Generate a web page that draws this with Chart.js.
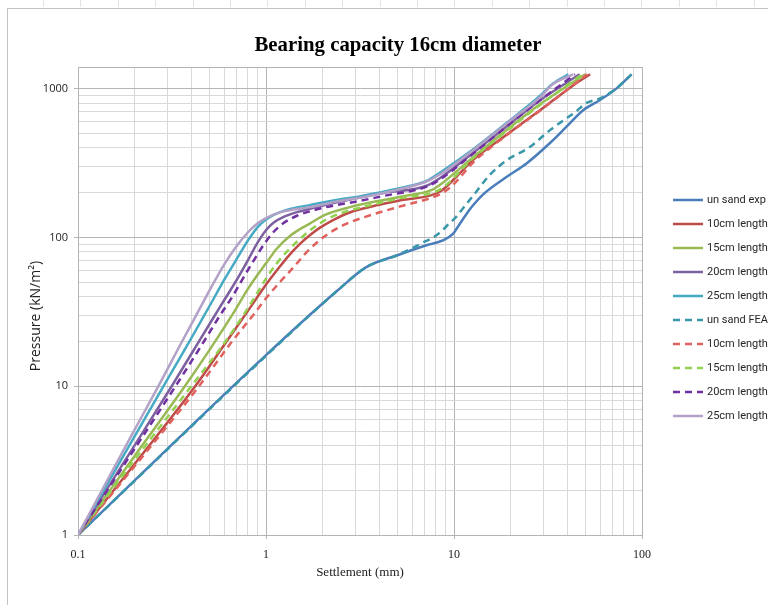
<!DOCTYPE html>
<html>
<head>
<meta charset="utf-8">
<title>Bearing capacity 16cm diameter</title>
<script src="https://cdn.jsdelivr.net/npm/chart.js@4.4.1/dist/chart.umd.min.js"></script>
<style>
    html, body { margin: 0; padding: 0; background: #fff; }
    #wrap { width: 768px; height: 605px; }
</style>
</head>
<body>
<div id="wrap"><canvas id="myChart" width="768" height="605"></canvas></div>
<script>
// settlement (mm) / pressure (kN/m2) pairs for each load test
const expX = [0.1, 1, 2.4, 3.4, 5, 7.2, 8.8, 9.9, 10.3, 11.7, 12.5, 14.3, 19.1, 24.4, 32.4, 39.8, 48.8, 59.8, 73.3, 88];
const expY = [1, 16.2, 44, 63, 76, 89, 96, 106, 114, 145, 162, 195, 256, 316, 432, 558, 720, 840, 1006, 1250];

const exp10X = [0.1, 0.2, 0.42, 0.6, 0.8, 1.01, 1.2, 1.34, 1.52, 1.75, 1.93, 2.3, 2.9, 4, 5.2, 8.4, 10.3, 12.6, 19.1, 28.8, 43.4, 53];
const exp10Y = [1, 3.0, 10, 19, 32, 49, 65, 77, 91, 106, 116, 132, 150, 166, 178, 203, 256, 331, 492, 720, 1060, 1250];

const exp15X = [0.1, 0.2, 0.37, 0.5, 0.67, 0.8, 0.9, 1.0, 1.14, 1.35, 1.52, 1.71, 1.93, 2.09, 2.8, 3.14, 5.2, 7.7, 8.4, 12.6, 19.1, 28.8, 50];
const exp15Y = [1, 3.4, 10, 17.5, 31, 45, 56, 67, 84, 103, 114, 124, 136, 143, 160, 166, 188, 210, 225, 345, 530, 790, 1250];

const exp20X = [0.1, 0.2, 0.315, 0.45, 0.535, 0.6, 0.7, 0.8, 0.9, 1.0, 1.1, 1.25, 1.46, 2.09, 2.8, 4.2, 7.1, 8.4, 12.6, 19.1, 28.8, 46.6];
const exp20Y = [1, 4.0, 10, 21, 30, 38, 52, 70, 92, 112, 126, 138, 148, 166, 180, 199, 222, 250, 370, 560, 840, 1250];

const exp25X = [0.1, 0.2, 0.3, 0.4, 0.5, 0.6, 0.7, 0.8, 0.9, 1.0, 1.1, 1.3, 1.71, 2.46, 3.14, 4.03, 5.2, 6.6, 7.3, 8.4, 12.6, 19.1, 28.8, 33.5, 40.6];
const exp25Y = [1, 4.6, 11.2, 21, 34.5, 52, 72, 95, 117, 132, 142, 154, 165, 180, 189, 201, 215, 232, 243, 272, 390, 590, 900, 1080, 1250];

const feaX = [0.1, 1, 2.4, 3.4, 5, 6.8, 8.1, 9.5, 10.3, 11.2, 12.6, 15.5, 19.1, 25.4, 32.4, 39.8, 44.7, 50.4, 59.8, 73.3, 88];
const feaY = [1, 16, 44, 63, 76, 92, 104, 125, 138, 158, 190, 263, 331, 407, 527, 635, 705, 800, 860, 1010, 1250];

const fea10X = [0.1, 0.2, 0.44, 0.65, 0.87, 1.0, 1.2, 1.4, 1.65, 1.93, 2.3, 2.69, 3.4, 5.2, 7.5, 8.4, 9.5, 10.5, 12.6, 19.1, 28.8, 51];
const fea10Y = [1, 2.9, 10, 19.5, 31, 39, 51, 63, 80, 96, 112, 124, 138, 162, 184, 195, 216, 245, 318, 488, 715, 1250];

const fea15X = [0.1, 0.2, 0.4, 0.6, 0.77, 0.9, 1.01, 1.14, 1.3, 1.52, 1.75, 2.09, 2.6, 3.14, 5.2, 8.4, 12.6, 19.1, 28.8, 48];
const fea15Y = [1, 3.2, 10, 19.5, 31, 42.5, 54, 67, 81, 98, 114, 132, 148, 158, 184, 210, 340, 520, 780, 1250];

const fea20X = [0.1, 0.2, 0.33, 0.45, 0.57, 0.67, 0.76, 0.86, 0.97, 1.09, 1.23, 1.46, 1.71, 2.09, 3.14, 4.2, 7.1, 8.4, 12.6, 19.1, 28.8, 44];
const fea20Y = [1, 3.8, 10, 18.5, 30, 41, 54, 70, 89, 108, 124, 140, 150, 160, 176, 190, 219, 245, 365, 560, 840, 1250];

const fea25X = [0.1, 0.157, 0.2, 0.273, 0.35, 0.41, 0.5, 0.6, 0.7, 0.8, 0.9, 1.0, 1.2, 1.71, 2.46, 3.14, 4.03, 5.2, 7.1, 8.4, 12.6, 19.1, 28.8, 33.5, 43];
const fea25Y = [1, 2.9, 5.1, 10.5, 19, 27.5, 44, 66, 88, 108, 124, 135, 148, 160, 176, 185, 197, 212, 237, 265, 385, 585, 880, 1070, 1250];

const seriesNames = ['un sand exp', '10cm length', '15cm length', '20cm length', '25cm length',
    'un sand FEA', '10cm length', '15cm length', '20cm length', '25cm length'];
const seriesX = [expX, exp10X, exp15X, exp20X, exp25X, feaX, fea10X, fea15X, fea20X, fea25X];
const seriesY = [expY, exp10Y, exp15Y, exp20Y, exp25Y, feaY, fea10Y, fea15Y, fea20Y, fea25Y];
const seriesColors = ['#4A7EBB', '#BE4B48', '#98B954', '#7D60A0', '#46AAC5',
    '#3A97AA', '#E0625E', '#92D050', '#7030A0', '#B3A2C7'];
const seriesDashed = [false, false, false, false, false, true, true, true, true, false];

const titleText = 'Bearing capacity 16cm diameter';
const yTitleText = 'Pressure (kN/m²)';

function isDecade(v) {
    const l = Math.log10(v);
    return Math.abs(l - Math.round(l)) < 1e-6;
}

// 1,2,...,9 times every power of ten between lo and hi
function logTickValues(lo, hi) {
    const out = [];
    for (let p = lo; p < hi * 0.999; p *= 10) {
        for (let m = 1; m <= 9; m++) out.push(+(m * p).toPrecision(3));
    }
    out.push(hi);
    return out;
}

// later series are painted over earlier ones
const datasets = seriesNames.map((name, i) => ({
    label: name,
    data: seriesX[i].map((x, k) => ({ x: x, y: seriesY[i][k] })),
    borderColor: seriesColors[i],
    backgroundColor: seriesColors[i],
    borderWidth: 2.5,
    borderDash: seriesDashed[i] ? [7, 5] : [],
    pointRadius: 0,
    cubicInterpolationMode: 'monotone',
    fill: false,
    order: -i
}));

const gridColor = ctx => (ctx.tick && isDecade(ctx.tick.value)) ? '#b4b4b4' : '#d9d9d9';
const tickMarkColor = ctx => (ctx.tick && isDecade(ctx.tick.value)) ? '#b4b4b4' : 'rgba(0,0,0,0)';

const decor = {
    id: 'decor',
    beforeDraw(chart) {
        const ctx = chart.ctx;
        const a = chart.chartArea;
        ctx.save();
        ctx.fillStyle = '#fff';
        ctx.fillRect(0, 0, chart.width, chart.height);
        // sheet cell borders peeking above the chart frame
        ctx.strokeStyle = '#e3e3e3';
        ctx.lineWidth = 1;
        for (let x = 43; x < chart.width; x += 37.4) {
            ctx.beginPath();
            ctx.moveTo(Math.round(x) + 0.5, 0);
            ctx.lineTo(Math.round(x) + 0.5, 7);
            ctx.stroke();
        }
        ctx.strokeStyle = '#c4c4c4';
        ctx.strokeRect(7.5, 8.5, chart.width + 20, chart.height + 20);

        ctx.fillStyle = '#000';
        ctx.textAlign = 'center';
        ctx.textBaseline = 'middle';
        ctx.save();
        ctx.font = 'bold 22px "Liberation Serif"';
        const w = ctx.measureText(titleText).width;
        ctx.translate(398, 45);
        ctx.scale(287 / w, 1);
        ctx.fillText(titleText, 0, 0);
        ctx.restore();

        ctx.save();
        ctx.fillStyle = '#222';
        ctx.font = '14px "Open Sans"';
        ctx.translate(36, (a.top + a.bottom) / 2 + 15);
        ctx.rotate(-Math.PI / 2);
        ctx.fillText(yTitleText, 0, 0);
        ctx.restore();
        ctx.restore();
    },
    beforeDatasetsDraw(chart) {
        const a = chart.chartArea;
        const ctx = chart.ctx;
        ctx.save();
        ctx.strokeStyle = '#b4b4b4';
        ctx.lineWidth = 1;
        ctx.strokeRect(Math.round(a.left) + 0.5, Math.round(a.top) + 0.5,
            Math.round(a.right - a.left), Math.round(a.bottom - a.top));
        ctx.restore();
    },
    afterDraw(chart) {
        const ctx = chart.ctx;
        const lx = 673, ly = 200, step = 24;
        ctx.save();
        chart.data.datasets.forEach((ds, i) => {
            const y = ly + i * step;
            ctx.strokeStyle = ds.borderColor;
            ctx.lineWidth = 2.5;
            ctx.setLineDash(ds.borderDash);
            ctx.beginPath();
            ctx.moveTo(lx, y);
            ctx.lineTo(lx + 30, y);
            ctx.stroke();
            ctx.setLineDash([]);
            ctx.fillStyle = '#262626';
            ctx.font = '11px Roboto';
            ctx.textAlign = 'left';
            ctx.textBaseline = 'middle';
            ctx.fillText(ds.label, lx + 34, y);
        });
        ctx.restore();
    }
};

new Chart(document.getElementById('myChart'), {
    type: 'line',
    data: { datasets: datasets },
    plugins: [decor],
    options: {
        responsive: false,
        animation: false,
        devicePixelRatio: 1,
        layout: { padding: { top: 67, right: 126, bottom: 0, left: 0 } },
        plugins: {
            legend: { display: false },
            title: { display: false },
            tooltip: { enabled: false }
        },
        scales: {
            x: {
                type: 'logarithmic',
                min: 0.1,
                max: 100,
                afterBuildTicks: s => { s.ticks = logTickValues(0.1, 100).map(v => ({ value: v })); },
                afterFit: s => { s.height = 70; },
                ticks: {
                    autoSkip: false,
                    maxRotation: 0,
                    padding: 9,
                    color: '#222',
                    font: { family: 'Liberation Serif', size: 12 },
                    callback: v => isDecade(v) ? String(v) : ''
                },
                grid: { color: gridColor, tickColor: tickMarkColor, tickLength: 4 },
                border: { color: '#b4b4b4' },
                title: {
                    display: true,
                    text: 'Settlement (mm)',
                    color: '#222',
                    font: { family: 'Liberation Serif', size: 13 },
                    padding: { top: 0, bottom: 25 }
                }
            },
            y: {
                type: 'logarithmic',
                min: 1,
                max: 1400,
                afterBuildTicks: s => { s.ticks = logTickValues(1, 1000).map(v => ({ value: v })); },
                afterFit: s => { s.width = 78; },
                ticks: {
                    autoSkip: false,
                    padding: 6,
                    color: '#222',
                    font: { family: 'Open Sans', size: 11 },
                    callback: v => isDecade(v) ? String(v) : ''
                },
                grid: { color: gridColor, tickColor: tickMarkColor, tickLength: 4 },
                border: { color: '#b4b4b4' }
            }
        }
    }
});
</script>
</body>
</html>
